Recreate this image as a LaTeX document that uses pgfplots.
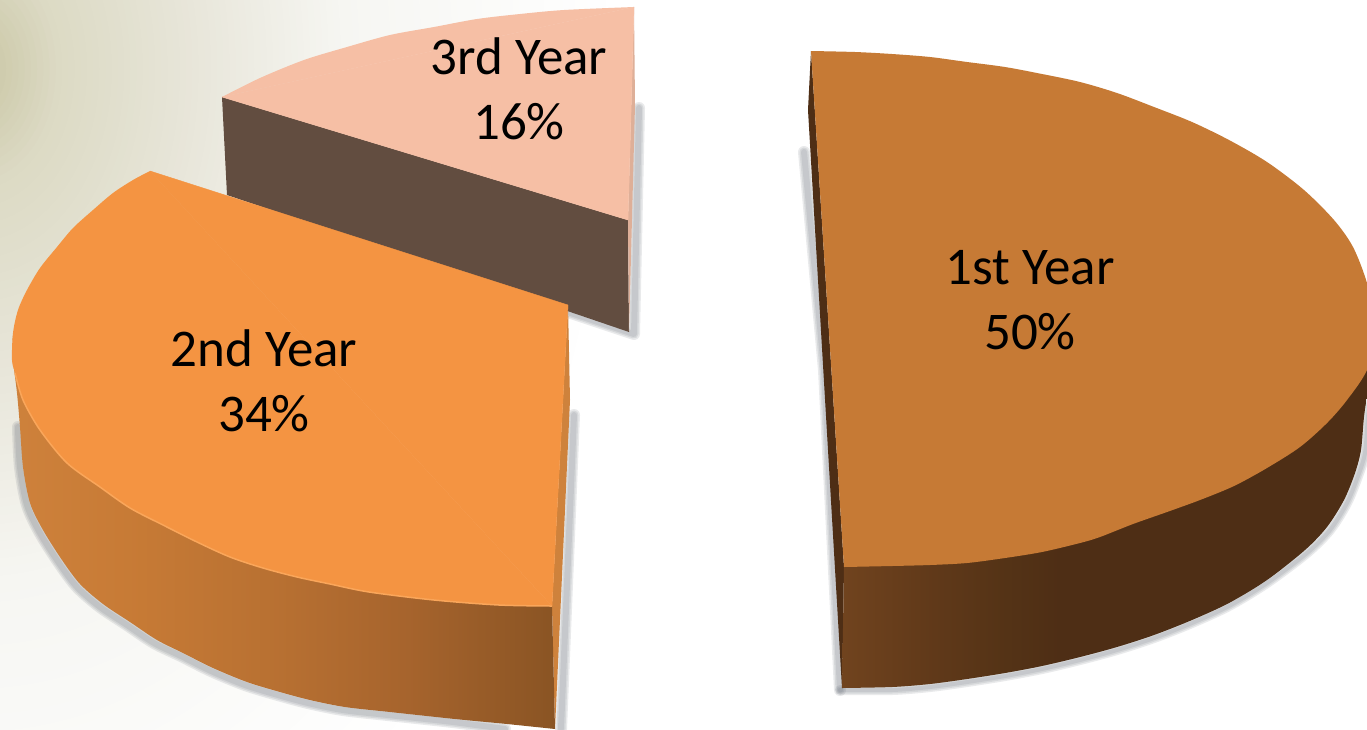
\documentclass[border=0pt]{standalone}
\usepackage{pgfplots}
\pgfplotsset{compat=1.18}
\usepackage{pgfplotstable}
\usepackage{fontspec}
\setmainfont{Carlito}
\definecolor{bgA}{RGB}{200,196,162}
\definecolor{bgB}{RGB}{220,218,196}
\definecolor{bgC}{RGB}{232,230,218}
\definecolor{bgD}{RGB}{246,246,242}
\definecolor{firstTop}{RGB}{198,122,53}
\definecolor{firstDark}{RGB}{78,46,21}
\definecolor{secondTop}{RGB}{244,148,66}
\definecolor{secondRim}{RGB}{250,166,90}
\definecolor{secondL}{RGB}{206,130,60}
\definecolor{thirdTop}{RGB}{246,191,165}
\definecolor{thirdSide}{RGB}{98,77,64}
\definecolor{thirdStrip}{RGB}{222,175,152}
\definecolor{shadowc}{RGB}{110,115,125}
\tikzset{
  sh/.style={draw=shadowc, fill=none, opacity=0.15, line cap=round},
  lbl/.style={anchor=base, font=\fontsize{53}{53}\selectfont, text=black, inner sep=0pt},
}
\pgfdeclarehorizontalshading{secondside}{100bp}{rgb(0bp)=(0.81,0.51,0.235);rgb(25bp)=(0.81,0.51,0.235);rgb(37bp)=(0.78,0.48,0.21);rgb(50bp)=(0.72,0.44,0.195);rgb(62bp)=(0.65,0.39,0.175);rgb(75bp)=(0.54,0.33,0.14);rgb(100bp)=(0.54,0.33,0.14)}
\pgfdeclarehorizontalshading{firstside}{100bp}{rgb(0bp)=(0.44,0.263,0.118);rgb(25bp)=(0.44,0.263,0.118);rgb(33bp)=(0.38,0.225,0.1);rgb(40bp)=(0.33,0.2,0.086);rgb(45bp)=(0.306,0.18,0.082);rgb(100bp)=(0.306,0.18,0.082)}
\pgfplotstableread{
x y
811 51
855 52
892 54
930 57
967 62
1005 67
1042 74
1080 82
1117 93
1154 107
1192 122
1229 140
1267 162
1304 190
1334 220
1353 247
1367 283
1378 330
1367 370
1347 400
1327 423
1300 447
1267 468
1234 486
1200 500
1167 512
1133 524
1100 537
1080 543
1042 552
1005 558
967 563
930 565
892 566
844 567
}\firsttop
\pgfplotstableread{
x y
842 688
892 687
930 684
967 679
1005 673
1042 666
1080 657
1117 647
1154 635
1192 620
1229 603
1267 580
1305 550
1327 527
1344 500
1355 473
1361 450
1364 417
1368 393
1380 350
1370 330
1250 350
1050 450
844 567
}\firstside
\pgfplotstableread{
x y
811 51
808 110
842 688
844 567
}\firststrip
\pgfplotstableread{
x y
804 152
824 370
840 690
}\firstshadowA
\pgfplotstableread{
x y
840 690
892 690
930 687
967 682
1005 676
1042 669
1080 660
1117 650
1154 638
1192 623
1229 606
1267 583
1307 553
1330 530
1347 503
1358 476
1365 453
1368 417
1372 393
}\firstshadowB
\pgfplotstableread{
x y
150 171
133 180
113 193
93 210
73 228
57 247
40 268
27 290
18 310
13 333
12 360
15 373
23 400
40 430
67 463
100 487
130 508
163 525
197 542
230 557
263 568
297 577
330 584
369 592
434 600
499 605
552 606
}\secondtop
\pgfplotstableread{
x y
150 171
552 606
568 305
}\secondtri
\pgfplotstableread{
x y
555 729
507 724
455 719
390 712
345 707
310 700
280 692
247 682
213 668
183 653
157 640
130 622
103 604
80 584
62 560
43 530
30 503
23 467
20 427
17 393
13 360
13 347
15 332
40 335
300 480
552 606
}\secondside
\pgfplotstableread{
x y
15 373
23 400
40 430
67 463
100 487
130 508
163 525
197 542
230 557
263 568
297 577
330 584
369 592
434 600
499 605
552 606
}\secondrim
\pgfplotstableread{
x y
568 305
570 400
555 729
552 606
}\secondstrip
\pgfplotstableread{
x y
18 427
20 467
27 505
40 533
59 563
77 587
100 607
127 625
154 643
181 656
211 671
245 685
278 695
308 703
343 710
388 715
453 722
505 729
}\secondshadowA
\pgfplotstableread{
x y
574 415
561 729
}\secondshadowB
\pgfplotstableread{
x y
222 97
260 78
304 60
347 47
390 35
434 27
477 19
520 14
564 10
634 7
}\thirdtop
\pgfplotstableread{
x y
222 97
634 7
628 220
}\thirdtri
\pgfplotstableread{
x y
222 97
227 195
629 332
628 220
}\thirdside
\pgfplotstableread{
x y
634 7
635 105
629 332
628 220
}\thirdstrip
\pgfplotstableread{
x y
639 108
634 334
568 312
}\thirdshadow
\begin{document}
\begin{tikzpicture}[x=1pt,y=1pt]
\begin{scope}
\clip (0,0) rectangle (1367,729);
\fill[white] (0,0) rectangle (1367,729);
\foreach \t in {104,103,...,60}{
  \pgfmathsetmacro{\p}{(104-\t)/44*100}
  \fill[bgD!\p!white] (-25,660) ellipse [x radius={6.2*\t}, y radius={8.6*\t}];
}
\foreach \t in {59,58,...,36}{
  \pgfmathsetmacro{\p}{(60-\t)/24*100}
  \fill[bgC!\p!bgD] (-25,660) ellipse [x radius={6.2*\t}, y radius={8.6*\t}];
}
\foreach \t in {35,34,...,14}{
  \pgfmathsetmacro{\p}{(36-\t)/22*100}
  \fill[bgB!\p!bgC] (-25,660) ellipse [x radius={6.2*\t}, y radius={8.6*\t}];
}
\foreach \t in {13,12,...,1}{
  \pgfmathsetmacro{\p}{(14-\t)/14*100}
  \fill[bgA!\p!bgB] (-25,660) ellipse [x radius={6.2*\t}, y radius={8.6*\t}];
}
\end{scope}
\begin{axis}[
  at={(0,0)}, anchor=south west,
  scale only axis, width=1367pt, height=729pt,
  xmin=0, xmax=1367, ymin=0, ymax=729, y dir=reverse,
  hide axis, clip=true,
  every axis plot/.append style={line join=round},
]
% soft shadows
\addplot[sh, line width=12pt] table {\firstshadowA};
\addplot[sh, line width=9pt] table {\firstshadowA};
\addplot[sh, line width=6pt] table {\firstshadowA};
\addplot[sh, smooth, line width=10pt] table {\firstshadowB};
\addplot[sh, smooth, line width=7pt] table {\firstshadowB};
\addplot[sh, smooth, line width=4pt] table {\firstshadowB};
\addplot[sh, smooth, line width=12pt] table {\secondshadowA};
\addplot[sh, smooth, line width=9pt] table {\secondshadowA};
\addplot[sh, smooth, line width=6pt] table {\secondshadowA};
\addplot[sh, line width=12pt] table {\secondshadowB};
\addplot[sh, line width=9pt] table {\secondshadowB};
\addplot[sh, line width=6pt] table {\secondshadowB};
\addplot[sh, line width=12pt] table {\thirdshadow};
\addplot[sh, line width=9pt] table {\thirdshadow};
\addplot[sh, line width=6pt] table {\thirdshadow};
% 3rd year
\addplot[draw=none, fill=thirdSide] table {\thirdside} --cycle;
\addplot[draw=none, fill=thirdStrip] table {\thirdstrip} --cycle;
\addplot[draw=none, smooth, fill=thirdTop] table {\thirdtop} --cycle;
\addplot[draw=thirdTop, line width=0.4pt, fill=thirdTop] table {\thirdtri} --cycle;
% 2nd year
\addplot[draw=none, fill=secondL] table {\secondstrip} --cycle;
\addplot[draw=none, smooth, shading=secondside] table {\secondside} --cycle;
\addplot[draw=none, smooth, fill=secondTop] table {\secondtop} --cycle;
\addplot[draw=secondTop, line width=0.4pt, fill=secondTop] table {\secondtri} --cycle;
\addplot[draw=secondRim, smooth, line width=1.5pt] table {\secondrim};
% 1st year
\addplot[draw=none, fill=firstDark] table {\firststrip} --cycle;
\addplot[draw=none, smooth, shading=firstside] table {\firstside} --cycle;
\addplot[draw=none, smooth, fill=firstTop] table {\firsttop} --cycle;
% labels
\node[lbl] at (axis cs:1030,284) {1st Year};
\node[lbl] at (axis cs:1030,349) {50\%};
\node[lbl] at (axis cs:264,366) {2nd Year};
\node[lbl] at (axis cs:264,431) {34\%};
\node[lbl] at (axis cs:519,74) {3rd Year};
\node[lbl] at (axis cs:519,139) {16\%};
\end{axis}
\end{tikzpicture}
\end{document}
